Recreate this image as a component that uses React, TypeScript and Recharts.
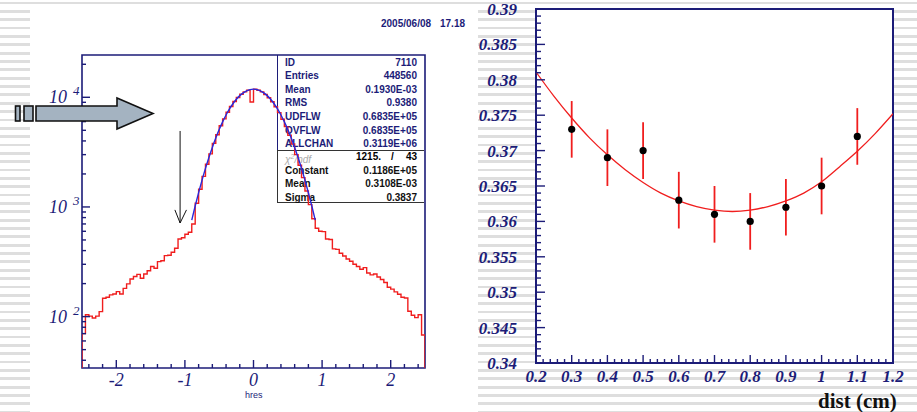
import {
  LineChart,
  Line,
  XAxis,
  YAxis,
  ReferenceArea,
  ReferenceLine,
  ComposedChart,
  Scatter,
  ErrorBar,
  CartesianGrid,
} from 'recharts'

const NAVY = '#1c1c78'
const RED = '#f01e1e'
const BLUE = '#2828dc'
const SERIF = '"Liberation Serif", "DejaVu Serif", serif'
const SANS = '"Liberation Sans", Arial, sans-serif'

// ---- left panel: hres histogram (100 bins of 0.05 from -2.5 to 2.5) ----
const HRES_START = -2.5
const HRES_BIN = 0.05
const hresCounts = [
  70, 104, 101, 97, 101, 111, 147, 150, 158, 161,
  169, 161, 181, 199, 220, 232, 243, 224, 245, 262,
  286, 276, 317, 323, 360, 363, 386, 420, 510, 523,
  563, 588,
  700, 1080, 1450, 1900, 2450, 3050, 3800, 4550, 5500, 6350,
  7300, 8250, 9150, 9950, 10650, 11200, 11600, 9050, 11850, 11600,
  11200, 10600, 9900, 9100, 8200, 7250, 6300, 5400, 4500, 3750,
  3000, 2400, 1850, 1400, 1050, 780,
  640, 600, 596, 510, 505, 415, 410, 378, 357, 335,
  320, 300, 286, 270, 280, 250, 240, 245, 230, 218,
  205, 185, 178, 168, 160, 150, 148, 112, 103, 98,
  104, 68,
]

// gaussian fit
const fitX = [
  -0.9, -0.85, -0.8, -0.75, -0.7, -0.65, -0.6, -0.55, -0.5, -0.45, -0.4, -0.35,
  -0.3, -0.25, -0.2, -0.15, -0.1, -0.05, 0, 0.05, 0.1, 0.15, 0.2, 0.25, 0.3,
  0.35, 0.4, 0.45, 0.5, 0.55, 0.6, 0.65, 0.7, 0.75, 0.8, 0.85, 0.9,
]
const fitCounts = [
  758, 1020, 1349, 1755, 2246, 2824, 3492, 4246, 5074, 5962, 6888, 7824,
  8736, 9591, 10354, 10987, 11464, 11759, 11860, 11759, 11464, 10987, 10354, 9591, 8736,
  7824, 6888, 5962, 5074, 4246, 3492, 2824, 2246, 1755, 1349, 1020, 758,
]

const hresTicks = [
  -2.4, -2.2, -2, -1.8, -1.6, -1.4, -1.2, -1, -0.8, -0.6, -0.4, -0.2, 0,
  0.2, 0.4, 0.6, 0.8, 1, 1.2, 1.4, 1.6, 1.8, 2, 2.2, 2.4,
]
const countTicks = [
  40, 50, 60, 70, 80, 90, 100, 200, 300, 400, 500, 600, 700, 800, 900,
  1000, 2000, 3000, 4000, 5000, 6000, 7000, 8000, 9000, 10000, 20000,
]

const statsTop = [
  ['ID', '7110'],
  ['Entries', '448560'],
  ['Mean', '0.1930E-03'],
  ['RMS', '0.9380'],
  ['UDFLW', '0.6835E+05'],
  ['OVFLW', '0.6835E+05'],
  ['ALLCHAN', '0.3119E+06'],
]
const statsFit = [
  ['Constant', '0.1186E+05'],
  ['Mean', '0.3108E-03'],
  ['Sigma', '0.3837'],
]

// ---- right panel: sigma vs dist ----
const dist = [0.3, 0.4, 0.5, 0.6, 0.7, 0.8, 0.9, 1.0, 1.1]
const sigma = [0.373, 0.369, 0.37, 0.363, 0.361, 0.36, 0.362, 0.365, 0.372]
const sigmaErr = [0.004, 0.004, 0.004, 0.004, 0.004, 0.004, 0.004, 0.004, 0.004]

const parabolaDist = [
  0.2, 0.25, 0.3, 0.35, 0.4, 0.45, 0.5, 0.55, 0.6, 0.65, 0.7,
  0.75, 0.8, 0.85, 0.9, 0.95, 1.0, 1.05, 1.1, 1.15, 1.2,
]
const parabolaSigma = [
  0.3811, 0.3777, 0.3746, 0.3718, 0.3694, 0.3673, 0.3655, 0.364, 0.3629, 0.3621, 0.3616,
  0.3614, 0.3616, 0.3621, 0.3629, 0.364, 0.3656, 0.3677, 0.3699, 0.3724, 0.3752,
]

const distLabels = ['0.2', '0.3', '0.4', '0.5', '0.6', '0.7', '0.8', '0.9', '1', '1.1', '1.2']
const sigmaLabels = ['0.34', '0.345', '0.35', '0.355', '0.36', '0.365', '0.37', '0.375', '0.38', '0.385', '0.39']

const distTicks = Array.from({ length: 51 }, (_, i) => Math.round((0.2 + i * 0.02) * 1000) / 1000)
const sigmaTicks = Array.from({ length: 51 }, (_, i) => Math.round((0.34 + i * 0.001) * 10000) / 10000)

const FLOOR = 20
const hresRows = [
  { x: HRES_START, y: FLOOR },
  ...hresCounts.map((c, i) => ({ x: HRES_START + i * HRES_BIN, y: c })),
  { x: 2.5, y: hresCounts[hresCounts.length - 1] },
  { x: 2.5, y: FLOOR },
]
const fitRows = fitX.map((x, i) => ({ x, y: fitCounts[i] }))
const pointRows = dist.map((x, i) => ({ x, y: sigma[i], err: sigmaErr[i] }))
const parabolaRows = parabolaDist.map((x, i) => ({ x, y: parabolaSigma[i] }))

const HresTick = (props: any) => {
  const { x, y, payload } = props
  const v = payload.value
  const major = Math.abs(v - Math.round(v)) < 1e-6
  return (
    <g>
      <line x1={x} x2={x} y1={y} y2={y - (major ? 8 : 4)} stroke={NAVY} strokeWidth={1.4} />
      {major && (
        <text x={x} y={y + 18} textAnchor="middle" fontFamily={SERIF} fontStyle="italic" fontSize={18} fill={NAVY}>
          {String(v)}
        </text>
      )}
    </g>
  )
}

const CountTick = (props: any) => {
  const { x, y, payload } = props
  const v = payload.value
  const exp = Math.log10(v)
  const major = Math.abs(exp - Math.round(exp)) < 1e-6
  return (
    <g>
      <line x1={x} x2={x + (major ? 8 : 4)} y1={y} y2={y} stroke={NAVY} strokeWidth={1.4} />
      {major && (
        <g fontFamily={SERIF} fontStyle="italic" fill={NAVY}>
          <text x={x - 15} y={y + 6} textAnchor="end" fontSize={18}>10</text>
          <text x={x - 9} y={y - 2} fontSize={13}>{Math.round(exp)}</text>
        </g>
      )}
    </g>
  )
}

const DistTick = (props: any) => {
  const { x, y, payload } = props
  const v = payload.value
  const k = Math.round(v * 10)
  const major = Math.abs(v * 10 - k) < 1e-6
  return (
    <g>
      <line x1={x} x2={x} y1={y} y2={y - (major ? 8 : 4)} stroke={NAVY} strokeWidth={1.4} />
      {major && (
        <text x={x} y={y + 19} textAnchor="middle" fontFamily={SERIF} fontStyle="italic" fontWeight="bold" fontSize={17} fill={NAVY}>
          {distLabels[k - 2]}
        </text>
      )}
    </g>
  )
}

const SigmaTick = (props: any) => {
  const { x, y, payload } = props
  const v = payload.value
  const k = Math.round(v * 200)
  const major = Math.abs(v * 200 - k) < 1e-6
  return (
    <g>
      <line x1={x} x2={x + (major ? 9 : 5)} y1={y} y2={y} stroke={NAVY} strokeWidth={1.4} />
      {major && (
        <text x={x - 19} y={y + 6} textAnchor="end" fontFamily={SERIF} fontStyle="italic" fontWeight="bold" fontSize={17} fill={NAVY}>
          {sigmaLabels[k - 68]}
        </text>
      )}
    </g>
  )
}

const StatRow = ({ top, label, value, color }: { top: number; label: string; value: string; color: string }) => (
  <>
    <span style={{ position: 'absolute', left: 285, top: top - 6, lineHeight: '12px', fontSize: 10, fontWeight: 'bold', color }}>{label}</span>
    <span style={{ position: 'absolute', right: 917 - 417, top: top - 6, lineHeight: '12px', fontSize: 10, fontWeight: 'bold', color }}>{value}</span>
  </>
)

const HresPanel = () => (
  <>
    <div style={{ position: 'absolute', left: 0, top: 0, width: 917, height: 412, fontFamily: SANS }}>
      <span style={{ position: 'absolute', left: 381, top: 18, fontSize: 10, fontWeight: 'bold', color: NAVY }}>2005/06/08</span>
      <span style={{ position: 'absolute', left: 440, top: 18, fontSize: 10, fontWeight: 'bold', color: NAVY }}>17.18</span>
      <div style={{ position: 'absolute', left: 277, top: 55, width: 0, height: 95, borderLeft: `1.5px solid ${NAVY}` }} />
      <div style={{ position: 'absolute', left: 277, top: 150, width: 147, height: 53, border: '1.5px solid #333', borderRight: 'none', boxSizing: 'border-box' }} />
      {statsTop.map(([l, v], i) => (
        <StatRow key={l + i} top={62.5 + i * 13.6} label={l} value={v} color={NAVY} />
      ))}
      <span style={{ position: 'absolute', left: 285, top: 151, lineHeight: '12px', fontSize: 10, color: '#aaa', fontStyle: 'italic' }}>
        χ<sup style={{ fontSize: 7 }}>2</sup>/ndf
      </span>
      <span style={{ position: 'absolute', right: 917 - 381, top: 151, lineHeight: '12px', fontSize: 10, fontWeight: 'bold' }}>1215.</span>
      <span style={{ position: 'absolute', left: 391, top: 151, lineHeight: '12px', fontSize: 10, fontWeight: 'bold' }}>/</span>
      <span style={{ position: 'absolute', right: 917 - 417, top: 151, lineHeight: '12px', fontSize: 10, fontWeight: 'bold' }}>43</span>
      {statsFit.map(([l, v], i) => (
        <StatRow key={l + i} top={170.7 + i * 13.7} label={l} value={v} color="#111" />
      ))}
      <span style={{ position: 'absolute', left: 245, top: 390, fontSize: 9, color: NAVY }}>hres</span>
    </div>
    <div style={{ position: 'absolute', left: 0, top: 0 }}>
      <LineChart width={460} height={412} margin={{ top: 55, right: 35, bottom: 43, left: 81 }}>
        <XAxis
          type="number"
          dataKey="x"
          domain={[-2.5, 2.5]}
          allowDataOverflow
          ticks={hresTicks}
          interval={0}
          tick={HresTick}
          tickSize={0}
          tickMargin={0}
          tickLine={false}
          axisLine={false}
          height={1}
        />
        <YAxis
          type="number"
          scale="log"
          domain={[34, 24300]}
          allowDataOverflow
          ticks={countTicks}
          interval={0}
          tick={CountTick}
          tickSize={0}
          tickMargin={0}
          tickLine={false}
          axisLine={false}
          width={1}
        />
        <ReferenceArea x1={-2.5} x2={2.5} y1={34} y2={24300} fill="none" stroke={NAVY} strokeWidth={1.6} ifOverflow="visible" />
        <Line data={hresRows} dataKey="y" type="stepAfter" stroke={RED} strokeWidth={1.4} dot={false} isAnimationActive={false} />
        <Line data={fitRows} dataKey="y" type="monotone" stroke={BLUE} strokeWidth={1.4} dot={false} isAnimationActive={false} />
        <ReferenceLine segment={[{ x: -1.07, y: 4930 }, { x: -1.07, y: 714 }]} stroke="#111" strokeWidth={1} />
        <ReferenceLine segment={[{ x: -1.146, y: 940 }, { x: -1.07, y: 714 }]} stroke="#111" strokeWidth={1} />
        <ReferenceLine segment={[{ x: -0.977, y: 940 }, { x: -1.07, y: 714 }]} stroke="#111" strokeWidth={1} />
      </LineChart>
    </div>
  </>
)

const SigmaPanel = () => (
  <>
    <div style={{ position: 'absolute', left: 460, top: 0 }}>
      <ComposedChart width={457} height={412} margin={{ top: 9, right: 24, bottom: 48, left: 75 }}>
        <CartesianGrid fill="#fff" horizontal={false} vertical={false} />
        <XAxis
          type="number"
          dataKey="x"
          domain={[0.2, 1.2]}
          allowDataOverflow
          ticks={distTicks}
          interval={0}
          tick={DistTick}
          tickSize={0}
          tickMargin={0}
          tickLine={false}
          axisLine={false}
          height={1}
        />
        <YAxis
          type="number"
          domain={[0.34, 0.39]}
          allowDataOverflow
          ticks={sigmaTicks}
          interval={0}
          tick={SigmaTick}
          tickSize={0}
          tickMargin={0}
          tickLine={false}
          axisLine={false}
          width={1}
        />
        <ReferenceArea x1={0.2} x2={1.2} y1={0.34} y2={0.39} fill="none" stroke={NAVY} strokeWidth={2} ifOverflow="visible" />
        <Line data={parabolaRows} dataKey="y" type="monotone" stroke={RED} strokeWidth={1.3} dot={false} isAnimationActive={false} />
        <Scatter
          data={pointRows}
          dataKey="y"
          fill="#000"
          isAnimationActive={false}
          shape={(p: any) => <circle cx={p.cx} cy={p.cy} r={3.6} fill="#000" />}
        >
          <ErrorBar dataKey="err" direction="y" width={0} stroke={RED} strokeWidth={1.8} />
        </Scatter>
      </ComposedChart>
    </div>
    <span
      style={{
        position: 'absolute',
        left: 818,
        top: 388,
        fontFamily: SERIF,
        fontWeight: 'bold',
        fontSize: 21,
        lineHeight: '26px',
        color: '#111',
      }}
    >
      dist (cm)
    </span>
  </>
)

const BigArrow = () => (
  <svg width={917} height={412} style={{ position: 'absolute', left: 0, top: 0, pointerEvents: 'none' }}>
    <g fill="#a4b3c1" stroke="#111" strokeWidth={1.6}>
      <rect x={15.5} y={106} width={4.5} height={15} />
      <rect x={24} y={106} width={9} height={15} />
      <polygon points="36,106 117,106 117,98 153,113.5 117,129 117,121 36,121" />
    </g>
  </svg>
)

const stripes =
  'repeating-linear-gradient(to bottom, #fff 0px, #fff 1.6px, #dedede 1.6px, #dedede 4.4px, #fff 4.4px, #fff 8.35px)'

export default function App() {
  return (
    <div style={{ position: 'absolute', left: 0, top: 0, width: 917, height: 412, overflow: 'hidden', background: stripes }}>
      <div style={{ position: 'absolute', left: 30, top: 6, width: 448, height: 406, background: '#fff' }} />
      <HresPanel />
      <SigmaPanel />
      <BigArrow />
    </div>
  )
}
